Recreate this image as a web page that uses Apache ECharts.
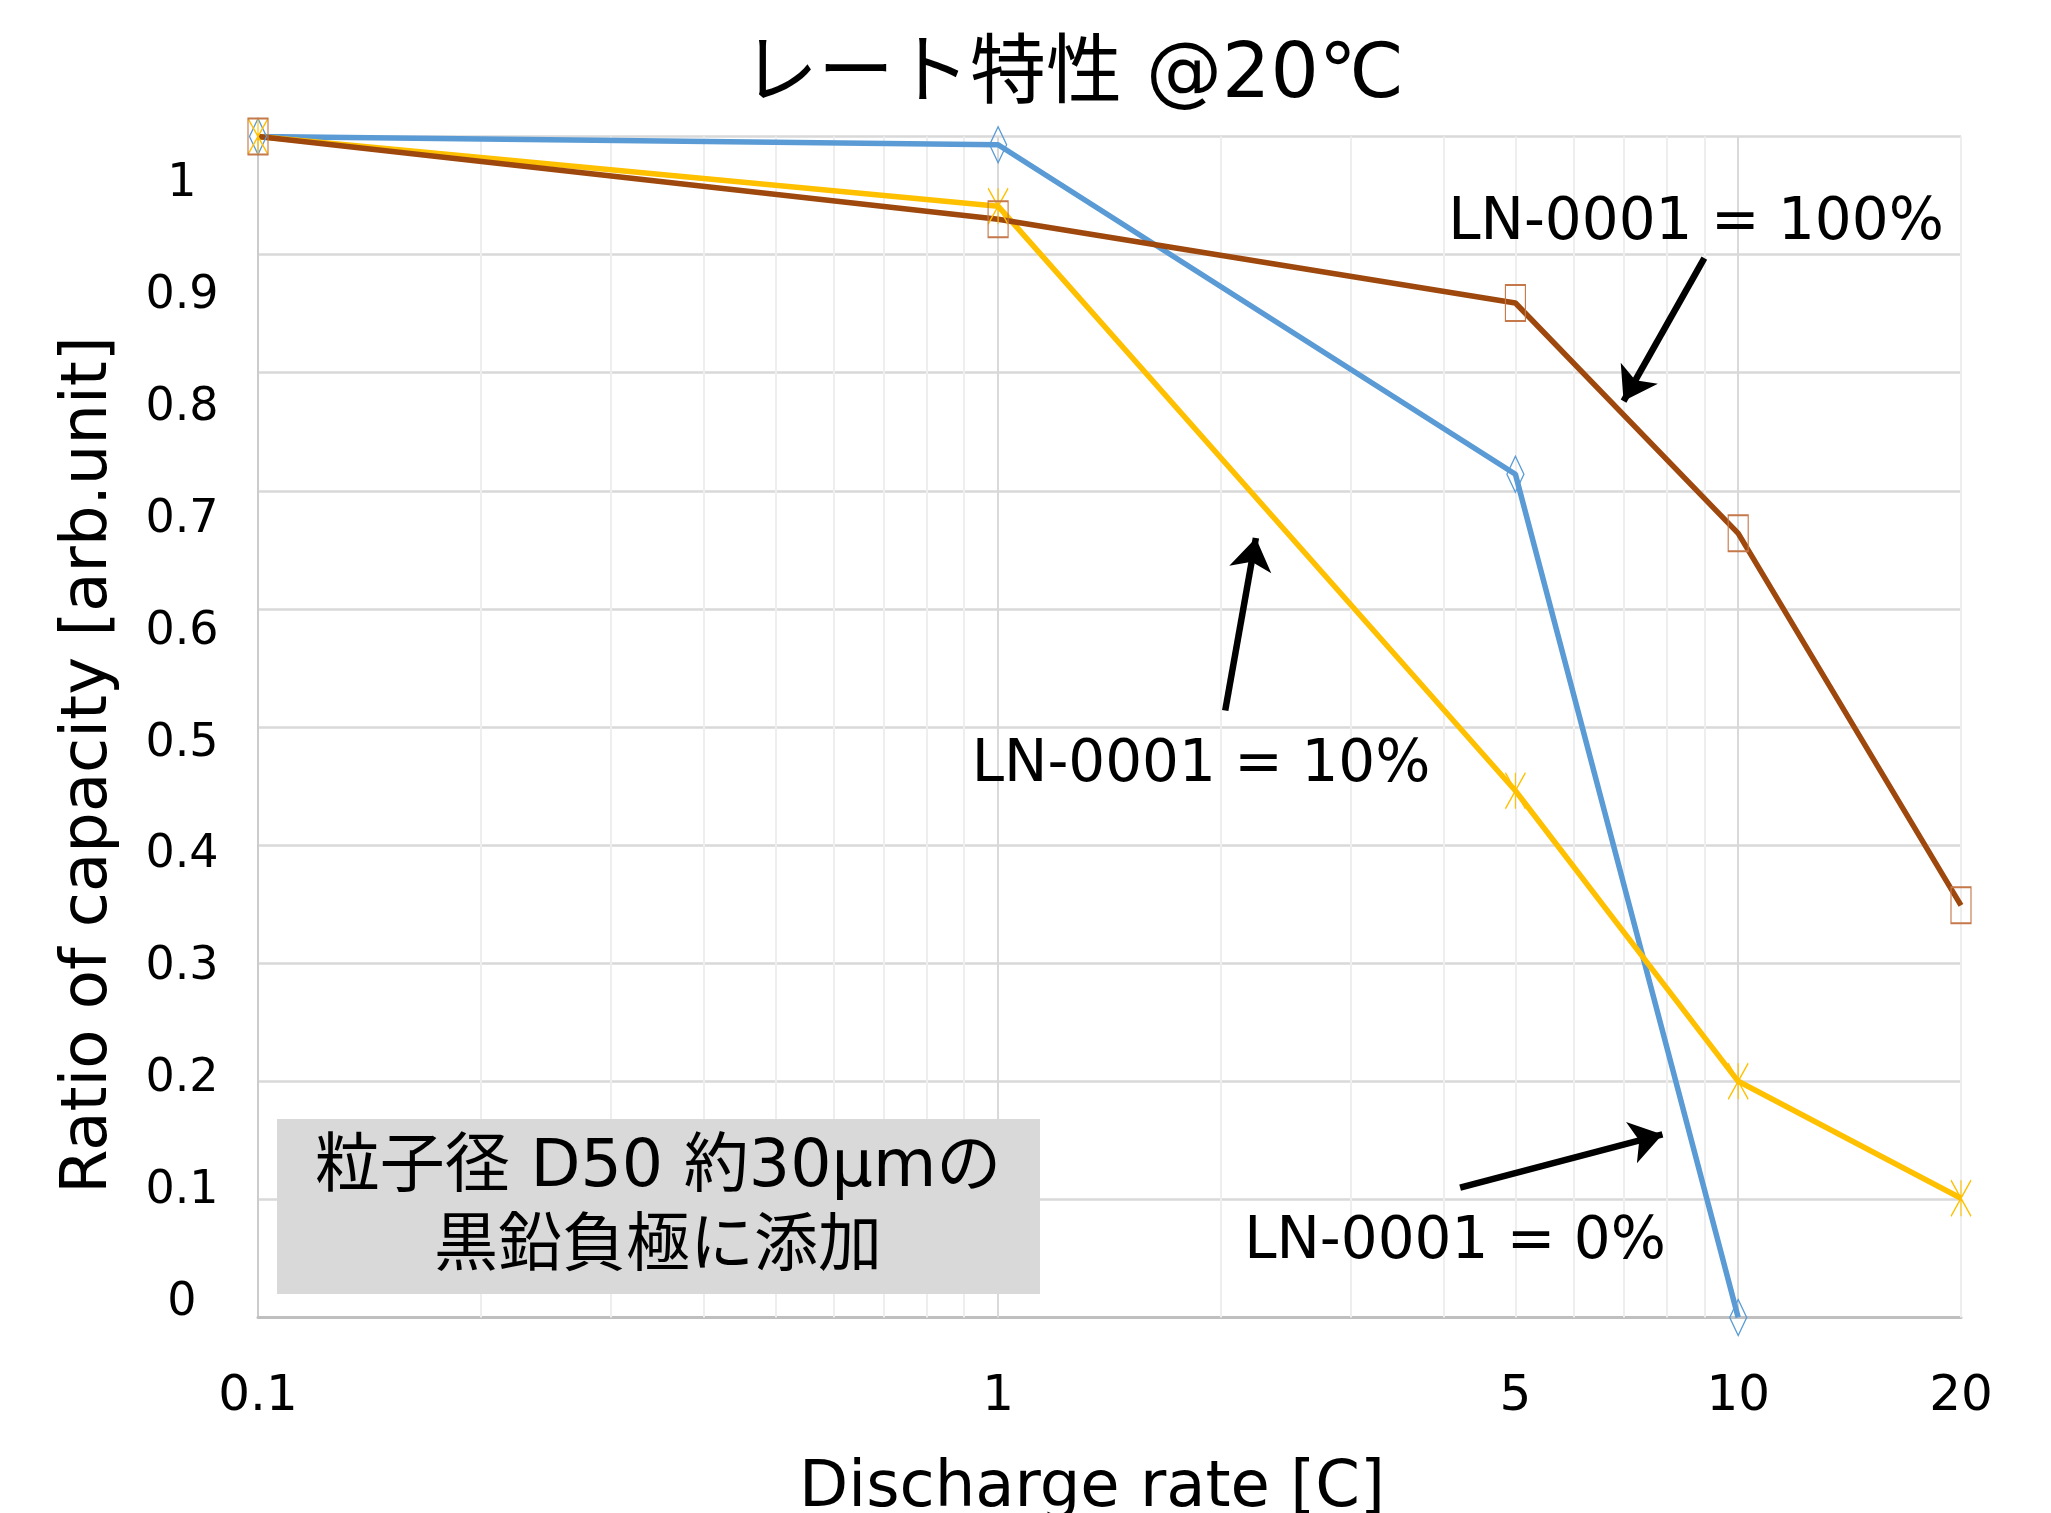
<!DOCTYPE html>
<html>
<head>
<meta charset="utf-8">
<title>レート特性 @20℃</title>
<script src="https://cdn.jsdelivr.net/npm/echarts@6/dist/echarts.min.js"></script>
<style>
html, body { margin: 0; padding: 0; background: #fff; }
#main { width: 2051px; height: 1513px; }
</style>
</head>
<body>
<div id="main"></div>
<script>
// discharge rate [C]
var rates = [0.1, 1, 5, 10, 20];
// ratio of capacity, one list per LN-0001 content (null = not measured)
var ln0 = [1.0, 0.993, 0.714, 0.0, null];
var ln10 = [1.0, 0.941, 0.446, 0.2, 0.101];
var ln100 = [1.0, 0.930, 0.859, 0.664, 0.349];

var xTicks = [0.1, 1, 5, 10, 20];
var yTicks = [0, 0.1, 0.2, 0.3, 0.4, 0.5, 0.6, 0.7, 0.8, 0.9, 1];
var xMinorGrid = [0.2, 0.3, 0.4, 0.5, 0.6, 0.7, 0.8, 0.9, 2, 3, 4, 5, 6, 7, 8, 9, 20];
var xMajorGrid = [1, 10];

// annotation arrows, [from, to] in data coords
var arrows = [
    [[9.0, 0.897], [7.0, 0.776]],
    [[2.027, 0.514], [2.23, 0.660]],
    [[4.21, 0.110], [7.9, 0.155]]
];

var FONT = 'DejaVu Sans, "Noto Sans CJK JP", sans-serif';

function pairs(vals) {
    var out = [];
    for (var i = 0; i < vals.length; i++) {
        if (vals[i] !== null) out.push([rates[i], vals[i]]);
    }
    return out;
}

var gridLines = [];
for (var i = 0; i < xMinorGrid.length; i++) {
    gridLines.push({ xAxis: xMinorGrid[i], lineStyle: { color: '#eeeeee', width: 2, type: 'solid' } });
}
for (var j = 0; j < xMajorGrid.length; j++) {
    gridLines.push({ xAxis: xMajorGrid[j], lineStyle: { color: '#d9d9d9', width: 2, type: 'solid' } });
}

var arrowData = arrows.map(function (a) {
    return [{ coord: a[0] }, { coord: a[1] }];
});

var myChart = echarts.init(document.getElementById('main'));

var option = {
    animation: false,
    backgroundColor: '#ffffff',
    title: {
        text: 'レート特性 @20℃',
        left: 1068,
        top: 34,
        textAlign: 'center',
        textStyle: { fontSize: 76, fontWeight: 'normal', color: '#000', fontFamily: FONT }
    },
    grid: { left: 258, right: 90, top: 136.5, bottom: 195.5, containLabel: false },
    xAxis: [
        {
            type: 'log',
            logBase: 10,
            min: 0.1,
            max: 20,
            axisLine: { show: true, onZero: false, lineStyle: { color: '#bfbfbf', width: 3 } },
            axisTick: { show: false },
            axisLabel: { show: false },
            splitLine: { show: false },
            minorSplitLine: { show: false }
        },
        {
            // label axis in log10 space, used only for tick labels
            type: 'value',
            position: 'bottom',
            min: Math.log10(0.1),
            max: Math.log10(20),
            axisLine: { show: false },
            axisTick: { show: false },
            splitLine: { show: false },
            axisLabel: {
                customValues: xTicks.map(function (v) { return Math.log10(v); }),
                formatter: function (v) { return String(+Math.pow(10, v).toPrecision(3)); },
                fontSize: 50,
                margin: 55,
                color: '#000',
                fontFamily: FONT
            }
        }
    ],
    yAxis: [
        {
            type: 'value',
            min: 0,
            max: 1,
            interval: 0.1,
            axisLine: { show: true, onZero: false, lineStyle: { color: '#cccccc', width: 2 } },
            axisTick: { show: false },
            axisLabel: { show: false },
            splitLine: { show: true, lineStyle: { color: '#d9d9d9', width: 2.7 } }
        },
        {
            // labels were placed by hand in the original, slightly off the grid
            type: 'value',
            position: 'left',
            min: -0.0129,
            max: 1.0425,
            axisLine: { show: false },
            axisTick: { show: false },
            splitLine: { show: false },
            axisLabel: {
                customValues: yTicks,
                formatter: function (v) { return String(+v.toFixed(1)); },
                align: 'center',
                margin: 76,
                fontSize: 46,
                color: '#000',
                fontFamily: FONT
            }
        }
    ],
    series: [
        {
            name: 'grid',
            type: 'line',
            data: [],
            silent: true,
            markLine: {
                silent: true,
                z: 1,
                symbol: 'none',
                label: { show: false },
                lineStyle: { type: 'solid' },
                data: gridLines
            }
        },
        {
            name: 'LN-0001 = 0%',
            type: 'line',
            data: pairs(ln0),
            symbol: 'diamond',
            symbolSize: [17, 36],
            lineStyle: { color: '#5b9bd5', width: 5.5 },
            itemStyle: { color: 'rgba(0,0,0,0)', borderColor: '#5b9bd5', borderWidth: 1.5 },
            emphasis: { disabled: true }
        },
        {
            name: 'LN-0001 = 10%',
            type: 'line',
            data: pairs(ln10),
            symbol: 'path://M0,0L20,36M20,0L0,36M10,0L10,36',
            symbolSize: [20, 36],
            lineStyle: { color: '#ffc000', width: 5.5 },
            itemStyle: { color: 'rgba(0,0,0,0)', borderColor: '#ffc000', borderWidth: 1.5 },
            emphasis: { disabled: true }
        },
        {
            name: 'LN-0001 = 100%',
            type: 'line',
            data: pairs(ln100),
            symbol: 'rect',
            symbolSize: [20, 36],
            lineStyle: { color: '#9e480e', width: 5.5 },
            itemStyle: { color: 'rgba(0,0,0,0)', borderColor: '#c5784a', borderWidth: 1.5 },
            emphasis: { disabled: true }
        },
        {
            name: 'arrows',
            type: 'line',
            data: [],
            silent: true,
            markLine: {
                silent: true,
                z: 6,
                symbol: ['none', 'arrow'],
                symbolSize: 32,
                label: { show: false },
                lineStyle: { color: '#000', width: 6.5, type: 'solid' },
                itemStyle: { color: '#000' },
                data: arrowData
            }
        }
    ],
    graphic: [
        {
            type: 'text', x: 89, y: 765, rotation: Math.PI / 2, z: 10,
            style: { text: 'Ratio of capacity [arb.unit]', fontSize: 64, fontFamily: FONT, fill: '#000', align: 'center', verticalAlign: 'middle' }
        },
        {
            type: 'text', x: 1092, y: 1489, z: 10,
            style: { text: 'Discharge rate [C]', fontSize: 64, fontFamily: FONT, fill: '#000', align: 'center', verticalAlign: 'middle' }
        },
        {
            type: 'text', x: 1696, y: 224, z: 10,
            style: { text: 'LN-0001 = 100%', fontSize: 58, fontFamily: FONT, fill: '#000', align: 'center', verticalAlign: 'middle' }
        },
        {
            type: 'text', x: 1201, y: 766, z: 10,
            style: { text: 'LN-0001 = 10%', fontSize: 58, fontFamily: FONT, fill: '#000', align: 'center', verticalAlign: 'middle' }
        },
        {
            type: 'text', x: 1455, y: 1243, z: 10,
            style: { text: 'LN-0001 = 0%', fontSize: 58, fontFamily: FONT, fill: '#000', align: 'center', verticalAlign: 'middle' }
        },
        {
            type: 'rect', z: 10,
            shape: { x: 277, y: 1119, width: 763, height: 175 },
            style: { fill: '#d9d9d9' }
        },
        {
            type: 'text', x: 658, y: 1169, z: 11,
            style: { text: '粒子径 D50 約30μmの', fontSize: 65, fontFamily: FONT, fill: '#000', align: 'center', verticalAlign: 'middle' }
        },
        {
            type: 'text', x: 658, y: 1248, z: 11,
            style: { text: '黒鉛負極に添加', fontSize: 64, fontFamily: FONT, fill: '#000', align: 'center', verticalAlign: 'middle' }
        }
    ]
};

myChart.setOption(option);
</script>
</body>
</html>
